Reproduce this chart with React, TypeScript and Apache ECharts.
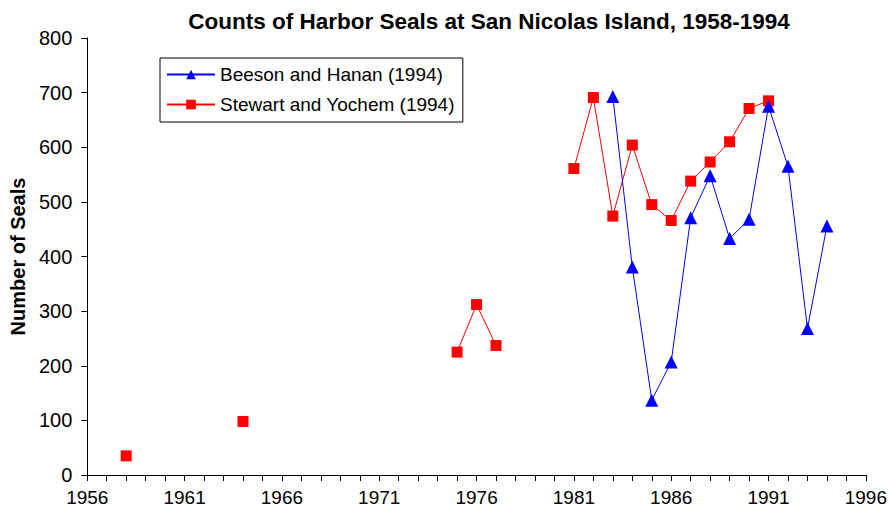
import React, { useEffect, useRef } from "react";
import * as echarts from "echarts";

const years: number[] = [];
for (let y = 1958; y <= 1994; y++) years.push(y);

// Counts by year (null = no survey)
const stewartYochem: (number | null)[] = [
  35, null, null, null, null, null, 98, null, null, null, null, null, null, null, null, null, null,
  225, 312, 237, null, null, null,
  561, 691, 474, 604, 495, 466, 538, 573, 610, 671, 685,
  null, null, null,
];
const beesonHanan: (number | null)[] = [
  null, null, null, null, null, null, null, null, null, null, null, null, null, null, null, null, null,
  null, null, null, null, null, null, null, null,
  693, 381, 137, 207, 471, 548, 433, 468, 675, 565, 268, 456,
];

const seriesNames = ["Beeson and Hanan (1994)", "Stewart and Yochem (1994)"];
const xMin = 1956;
const xMax = 1996;
const yMax = 800;

const FONT = "'Liberation Sans', Arial, sans-serif";

export default function App() {
  const ref = useRef<HTMLDivElement>(null);
  useEffect(() => {
    if (!ref.current) return;
    const chart = echarts.init(ref.current, null, { renderer: "svg" });
    const toData = (arr: (number | null)[]) =>
      years.map((y, i) => [y, arr[i] === null ? "-" : arr[i]]);
    chart.setOption({
      animation: false,
      backgroundColor: "#fff",
      title: {
        text: "Counts of Harbor Seals at San Nicolas Island, 1958-1994",
        left: 484,
        textAlign: "center",
        top: 5,
        textStyle: { fontFamily: FONT, fontSize: 22.5, fontWeight: "bold", color: "#000" },
      },
      legend: {
        orient: "vertical",
        left: 160,
        top: 58,
        data: seriesNames,
        borderColor: "#000",
        borderWidth: 1,
        borderRadius: 0,
        padding: [7, 8, 8, 6],
        itemGap: 11,
        itemWidth: 48,
        itemHeight: 12,
        textStyle: { fontFamily: FONT, fontSize: 19, color: "#000" },
      },
      grid: { left: 87, right: 24, top: 38, bottom: 40, containLabel: false },
      xAxis: {
        type: "value",
        min: xMin,
        max: xMax,
        interval: 1,
        axisLine: { show: true, lineStyle: { color: "#000", width: 1 } },
        axisTick: { show: true, inside: false, length: 6, lineStyle: { color: "#000" } },
        splitLine: { show: false },
        axisLabel: {
          fontFamily: FONT,
          fontSize: 19,
          color: "#000",
          margin: 13,
          formatter: (v: number) => ((v - xMin) % 5 === 0 ? String(v) : ""),
          showMinLabel: true,
          showMaxLabel: true,
        },
      },
      yAxis: {
        type: "value",
        min: 0,
        max: yMax,
        interval: 100,
        name: "Number of Seals",
        nameLocation: "middle",
        nameGap: 58,
        nameTextStyle: { fontFamily: FONT, fontSize: 20, fontWeight: "bold", color: "#000" },
        axisLine: { show: true, lineStyle: { color: "#000", width: 1 } },
        axisTick: { show: true, inside: false, length: 6, lineStyle: { color: "#000" } },
        splitLine: { show: false },
        axisLabel: { fontFamily: FONT, fontSize: 20, color: "#000", margin: 15 },
      },
      series: [
        {
          name: seriesNames[0],
          type: "line",
          data: toData(beesonHanan),
          connectNulls: false,
          symbol: "triangle",
          symbolSize: 13,
          itemStyle: { color: "#0000ff" },
          lineStyle: { color: "#0000ff", width: 1 },
          z: 3,
        },
        {
          name: seriesNames[1],
          type: "line",
          data: toData(stewartYochem),
          connectNulls: false,
          symbol: "rect",
          symbolSize: 11,
          itemStyle: { color: "#ff0000" },
          lineStyle: { color: "#ff0000", width: 1 },
          z: 2,
        },
      ],
    });
    return () => chart.dispose();
  }, []);
  return (
    <div
      ref={ref}
      style={{ position: "fixed", left: 0, top: 0, width: 890, height: 515, background: "#fff" }}
    />
  );
}
